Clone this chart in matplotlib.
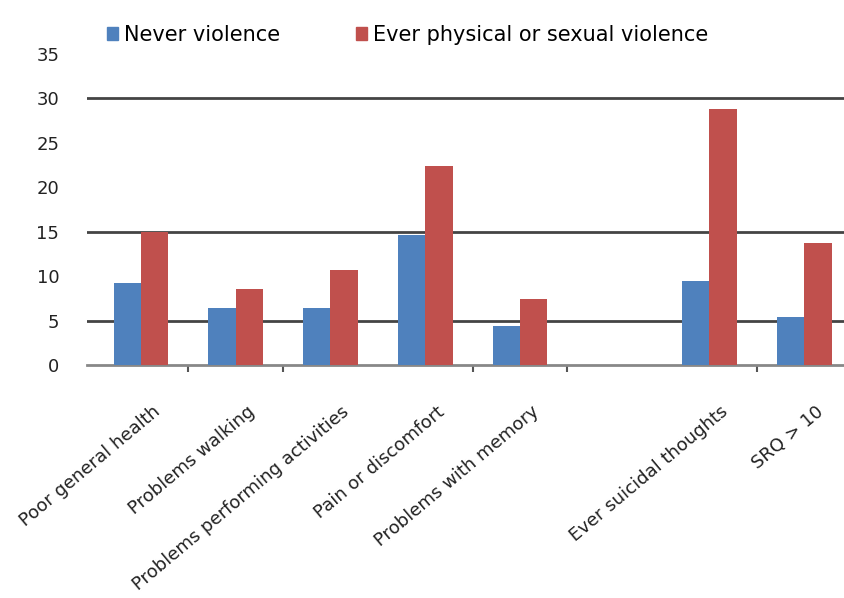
import numpy as np
import matplotlib.pyplot as plt
from matplotlib.patches import Patch

categories = ['Poor general health', 'Problems walking', 'Problems performing activities',
              'Pain or discomfort', 'Problems with memory', '',
              'Ever suicidal thoughts', 'SRQ > 10']
never = [9.2, 6.4, 6.4, 14.6, 4.4, np.nan, 9.4, 5.4]
ever = [15.0, 8.6, 10.7, 22.4, 7.4, np.nan, 28.8, 13.7]
yticks = [0, 5, 10, 15, 20, 25, 30, 35]

blue = '#4F81BD'
red = '#C0504D'

fig = plt.figure(figsize=(8.44, 5.98), dpi=100)
ax = fig.add_axes([87 / 844, 1 - 365 / 598, 757 / 844, 311 / 598])

x = np.arange(len(categories))
w = 0.29
ax.bar(x - w / 2, never, w, color=blue, zorder=3)
ax.bar(x + w / 2, ever, w, color=red, zorder=3)

ax.set_xlim(-0.57, 7.42)
ax.set_ylim(0, 35)

# only these gridlines show in the picture
for g in [5, 15, 30]:
    ax.axhline(g, color='#444444', lw=2, zorder=1)

for s in ['top', 'right', 'left']:
    ax.spines[s].set_visible(False)
ax.spines['bottom'].set_color('#888888')
ax.spines['bottom'].set_linewidth(2)

ax.set_yticks(yticks)
ax.tick_params(axis='y', length=0, labelsize=13, pad=20, colors='#222222')
ax.set_xticks([0.5, 1.5, 3.5, 4.5, 6.5])
ax.set_xticklabels([])
ax.tick_params(axis='x', length=5, width=1.5, color='#555555')

for xi, lab in zip(x, categories):
    ax.annotate(lab, xy=(xi, 0), xycoords=('data', 'axes fraction'),
                xytext=(12, -32), textcoords='offset points',
                rotation=40, rotation_mode='anchor', ha='right', va='center',
                fontsize=13, color='#222222')

handles = [Patch(color=blue, label='Never violence'),
           Patch(color=red, label='Ever physical or sexual violence')]
fig.legend(handles=handles, loc='upper left', bbox_to_anchor=(88 / 844, 1 - 6 / 598),
           ncol=2, frameon=False, fontsize=15, handlelength=0.55, handleheight=0.55,
           handletextpad=0.3, columnspacing=3.6)

plt.savefig('out.png')
